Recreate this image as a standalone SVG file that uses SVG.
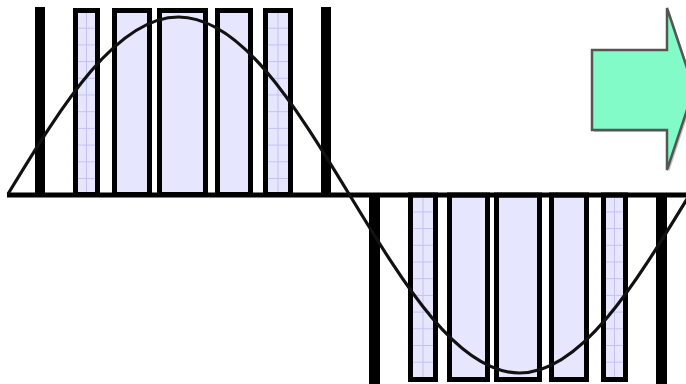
<svg xmlns="http://www.w3.org/2000/svg" width="686" height="384" viewBox="0 0 686 384">
<defs>
<style>
.r{fill:#E6E6FF;stroke:#000;stroke-width:5}
.g{stroke:#C2C2F4;stroke-width:1;fill:none}
.bar{fill:#000}
</style>
<pattern id="grid" patternUnits="userSpaceOnUse" x="0" y="11" width="686" height="16.7">
<line x1="0" y1="0.5" x2="686" y2="0.5" stroke="#C2C2F4" stroke-width="1"/>
</pattern>
</defs>
<rect width="686" height="384" fill="#fff"/>
<g id="upper">
<rect class="r" x="75.5" y="10.5" width="22" height="184"/>
<rect x="78" y="13" width="17" height="179" fill="url(#grid)"/>
<line class="g" x1="86.5" y1="13" x2="86.5" y2="192"/>
<rect class="r" x="114.5" y="10.5" width="35" height="184"/>
<rect class="r" x="159.5" y="10.5" width="46" height="184"/>
<rect class="r" x="217.5" y="10.5" width="33" height="184"/>
<rect class="r" x="265.5" y="10.5" width="25" height="184"/>
<rect x="268" y="13" width="20" height="179" fill="url(#grid)"/>
<line class="g" x1="278" y1="13" x2="278" y2="192"/>
<rect class="bar" x="35" y="7" width="10" height="188"/>
<rect class="bar" x="321" y="7" width="10" height="188"/>
</g>
<g id="lower">
<rect class="r" x="410.5" y="195" width="25" height="184.5"/>
<rect x="413" y="198" width="20" height="179" fill="url(#grid)"/>
<line class="g" x1="423" y1="198" x2="423" y2="377"/>
<rect class="r" x="449.5" y="195" width="38" height="184.5"/>
<rect class="r" x="496.5" y="195" width="43" height="184.5"/>
<rect class="r" x="551.5" y="195" width="35" height="184.5"/>
<rect class="r" x="603.5" y="195" width="22" height="184.5"/>
<rect x="606" y="198" width="17" height="179" fill="url(#grid)"/>
<line class="g" x1="614.5" y1="198" x2="614.5" y2="377"/>
<rect class="bar" x="369" y="195" width="11" height="189"/>
<rect class="bar" x="656" y="195" width="11" height="189"/>
</g>
<g id="axis">
<line x1="7" y1="195" x2="686" y2="195" stroke="#000" stroke-width="5"/>
</g>
<g id="sine">
<path d="M8,194 C63.5,102.8 116.7,17 178.5,17 C240.3,17 293.5,102.8 349,194 C404.5,285.2 457.7,373 519.5,373 C581.3,373 634.5,285.2 690,194" fill="none" stroke="#111" stroke-width="3.2"/>
</g>
<g id="arrow">
<polygon points="594,52 669,52 669,10 696,91 669,172 669,132 594,132" fill="#999" opacity="0.6"/>
<polygon points="592,50 667,50 667,8 694,89 667,170 667,130 592,130" fill="#82FBC8" stroke="#555" stroke-width="2.5" stroke-linejoin="miter"/>
</g>
</svg>
